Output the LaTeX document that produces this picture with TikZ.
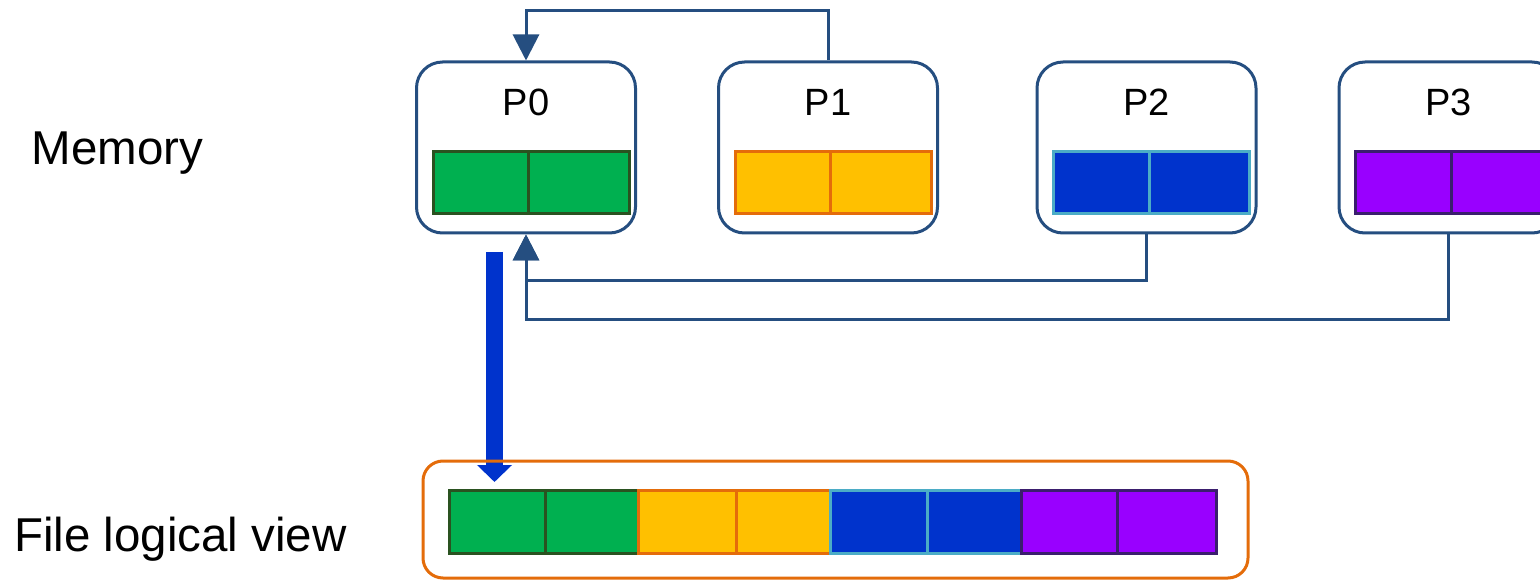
\documentclass[tikz,border=0pt]{standalone}
\usepackage{fontspec}
\setmainfont{Liberation Sans}
\usetikzlibrary{arrows.meta}

\definecolor{frameblue}{RGB}{37,78,128}
\definecolor{gfill}{RGB}{0,176,80}
\definecolor{gline}{RGB}{42,82,32}
\definecolor{ofill}{RGB}{255,192,0}
\definecolor{oline}{RGB}{228,108,10}
\definecolor{bfill}{RGB}{0,51,204}
\definecolor{bline}{RGB}{75,172,198}
\definecolor{pfill}{RGB}{153,0,255}
\definecolor{pline}{RGB}{59,30,110}

\tikzset{
  procbox/.style={draw=frameblue, line width=3pt, rounded corners=26pt,
    minimum width=219pt, minimum height=171pt, inner sep=0pt},
  plabel/.style={anchor=base, inner sep=0pt, font=\fontsize{38}{40}\selectfont},
  sidelabel/.style={anchor=base west, inner sep=0pt, font=\fontsize{47.5}{50}\selectfont},
  gcell/.style={fill=gfill, draw=gline, line width=3pt},
  ocell/.style={fill=ofill, draw=oline, line width=3pt},
  bcell/.style={fill=bfill, draw=bline, line width=3pt},
  pcell/.style={fill=pfill, draw=pline, line width=3pt},
  conn/.style={draw=frameblue, line width=3pt,
    -{Triangle[width=26pt,length=26pt]}},
  bigarrow/.style={draw=bfill, line width=17pt,
    -{Triangle[width=34pt,length=17pt]}},
  filebox/.style={draw=oline, line width=3pt, rounded corners=20pt,
    minimum width=825pt, minimum height=117pt, inner sep=0pt}
}

\begin{document}
\begin{tikzpicture}[x=1pt,y=-1pt]
\useasboundingbox (0,0) rectangle (1540,580);

% side labels
\node[sidelabel] (memlbl) at (31.5,165) {Memory};
\node[sidelabel] (filelbl) at (14,551) {File logical view};

% process boxes with their two-cell buffers
\foreach \n/\cx/\st in {0/526/gcell, 1/828/ocell, 2/1146.5/bcell, 3/1448.5/pcell}{
  \node[procbox] (p\n) at (\cx,147.5) {};
  \node[plabel] (p\n lbl) at (\cx,116) {P\n};
  \draw[\st] (\cx-93,152) rectangle (\cx+2.5,214);
  \draw[\st] (\cx+2.5,152) rectangle (\cx+103,214);
}

% gather connectors into P0
\draw[conn] (p1.north) -- ++(0,-50) -| (p0.north);
\draw[conn] (p2.south) -- ++(0,46) -| (p0.south);
\draw[conn] (p3.south) -- ++(0,85) -| (p0.south);

% write from P0 to the file
\coordinate (wstart) at (494.5,252);
\coordinate (wend) at (494.5,482);
\draw[bigarrow] (wstart) -- (wend);

% file logical view
\node[filebox] (file) at (835.5,519.5) {};
\draw[gcell] (449,490) rectangle (545,553);
\draw[gcell] (545,490) rectangle (638,553);
\draw[ocell] (638,490) rectangle (736,553);
\draw[ocell] (736,490) rectangle (830,553);
\draw[bcell] (830,490) rectangle (927,553);
\draw[bcell] (927,490) rectangle (1021,553);
\draw[pcell] (1021,490) rectangle (1117,553);
\draw[pcell] (1117,490) rectangle (1216,553);
\end{tikzpicture}
\end{document}
